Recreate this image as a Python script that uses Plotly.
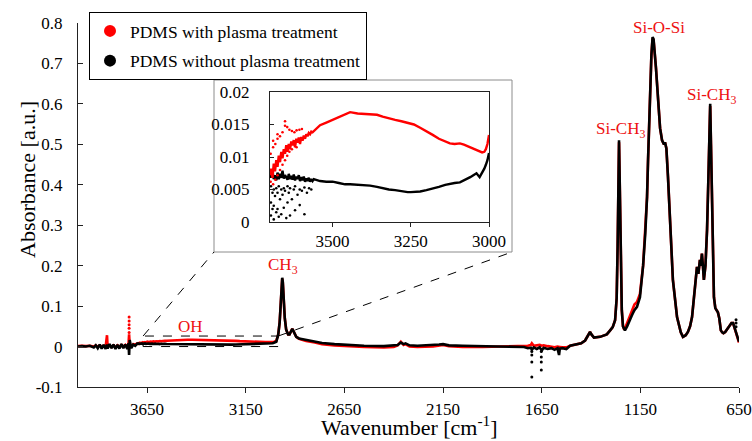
import plotly.graph_objects as go

# ---------------- data ----------------
SERIES = ["PDMS with plasma treatment", "PDMS without plasma treatment"]
COLORS = ["#ff0000", "#000000"]

X_TICKS = [3650, 3150, 2650, 2150, 1650, 1150, 650]
Y_TICKS = [-0.1, 0, 0.1, 0.2, 0.3, 0.4, 0.5, 0.6, 0.7, 0.8]
Y_TICK_TEXT = ["-0.1", "0", "0.1", "0.2", "0.3", "0.4", "0.5", "0.6", "0.7", "0.8"]
INSET_X_TICKS = [3500, 3250, 3000]
INSET_Y_TICKS = [0, 0.005, 0.01, 0.015, 0.02]
INSET_Y_TICK_TEXT = ["0", "0.005", "0.01", "0.015", "0.02"]

# 4000 - 3710 cm-1 (noisy region)
HIGH_WN = [4000, 3980, 3960, 3940, 3920, 3910, 3900, 3890, 3880, 3870, 3860, 3853, 3850,
           3840, 3830, 3820, 3810, 3800, 3790, 3780, 3770, 3760, 3750, 3744, 3741, 3738,
           3730, 3720, 3710]
HIGH_RED = [0.001, 0.002, 0.001, 0.002, 0.0, 0.003, -0.001, 0.003, 0.0, 0.002, -0.001, 0.028, 0.0,
            0.003, -0.001, 0.003, -0.002, 0.003, -0.001, 0.004, 0.0, 0.004, -0.002, 0.006, 0.03, 0.004,
            0.002, 0.006, 0.005]
HIGH_BLACK = [0.0, 0.001, 0.0, 0.002, -0.002, 0.003, -0.004, 0.005, -0.005, 0.004, -0.006, 0.005, -0.005,
              0.006, -0.004, 0.005, -0.006, 0.004, -0.005, 0.006, -0.004, 0.005, -0.006, 0.008, -0.021, 0.016,
              -0.004, 0.005, 0.002]

# 3700 - 3000 cm-1 (OH region, also shown in the inset)
INSET_WN = [3700, 3696, 3692, 3688, 3684, 3680, 3676, 3672, 3668, 3664, 3660, 3656, 3652, 3648,
            3644, 3640, 3636, 3632, 3628, 3624, 3620, 3616, 3612, 3608, 3604, 3600, 3596, 3592,
            3588, 3584, 3580, 3576, 3572, 3568, 3564, 3560,
            3550, 3540, 3520, 3500, 3480, 3460, 3444, 3420, 3400, 3380, 3358, 3340, 3320, 3300,
            3280, 3260, 3250, 3240, 3220, 3200, 3180, 3160, 3140, 3125, 3110, 3093, 3080, 3070,
            3060, 3050, 3040, 3030, 3022, 3015, 3010, 3005, 3000]
INSET_RED = [0.0072, 0.0082, 0.0068, 0.0090, 0.0078, 0.0095, 0.0085, 0.0102, 0.0092, 0.0108, 0.0098, 0.0112, 0.0105, 0.0118,
             0.0108, 0.0120, 0.0112, 0.0124, 0.0118, 0.0126, 0.0115, 0.0128, 0.0122, 0.0130, 0.0120, 0.0131, 0.0125, 0.0133,
             0.0128, 0.0135, 0.0132, 0.0137, 0.0135, 0.0139, 0.0138, 0.0140,
             0.0145, 0.0149, 0.0153, 0.0157, 0.0162, 0.0166, 0.0169, 0.0167, 0.0166, 0.0166, 0.0165, 0.0162, 0.0159, 0.0157,
             0.0155, 0.0153, 0.0152, 0.015, 0.0145, 0.014, 0.0134, 0.0128, 0.0124, 0.0121, 0.012, 0.0121, 0.0119, 0.0117,
             0.0115, 0.0113, 0.0111, 0.0109, 0.0107, 0.0108, 0.0112, 0.012, 0.0134]
INSET_BLACK = [0.0075, 0.0068, 0.0078, 0.0066, 0.0072, 0.0064, 0.0076, 0.0066, 0.0074, 0.0068, 0.0079, 0.0067, 0.0072, 0.0068,
               0.0065, 0.0074, 0.0066, 0.0071, 0.0065, 0.0073, 0.0064, 0.007, 0.0066, 0.0072, 0.0063, 0.0069, 0.0064, 0.007,
               0.0062, 0.0067, 0.0063, 0.0068, 0.0062, 0.0066, 0.0063, 0.0066,
               0.0064, 0.0063, 0.0062, 0.0062, 0.006, 0.0058, 0.0058, 0.0057, 0.0057, 0.0056, 0.0054, 0.0052, 0.005, 0.0049,
               0.0047, 0.0046, 0.0046, 0.0046, 0.0047, 0.0049, 0.0051, 0.0054, 0.0057, 0.0059, 0.006, 0.0061, 0.0064, 0.0066,
               0.0069, 0.0072, 0.0075, 0.0069, 0.0075, 0.0082, 0.0088, 0.0095, 0.0106]

# scattered noise points of the inset (dotted columns)
INSET_RED_DOTS_WN = [3698, 3698, 3690, 3690, 3690, 3683, 3683, 3676, 3676, 3676, 3668, 3668, 3660, 3660,
                     3652, 3652, 3652, 3645, 3645, 3638, 3638, 3630, 3630, 3622, 3615, 3615, 3606, 3598]
INSET_RED_DOTS_ABS = [0.0062, 0.0105, 0.0058, 0.0115, 0.0125, 0.0065, 0.012, 0.0072, 0.0128, 0.0135, 0.008, 0.0132,
                      0.0088, 0.0138, 0.0095, 0.0148, 0.0155, 0.0102, 0.0146, 0.0108, 0.0142, 0.0112, 0.0140, 0.0138,
                      0.0115, 0.0141, 0.0142, 0.0143]
INSET_BLACK_DOTS_WN = [3697, 3697, 3697, 3692, 3692, 3688, 3688, 3688, 3684, 3680, 3680, 3676, 3676, 3672, 3672,
                       3668, 3664, 3664, 3660, 3656, 3656, 3652, 3648, 3644, 3644, 3640, 3636, 3636, 3630, 3624,
                       3620, 3620, 3612, 3605, 3605, 3598, 3590, 3590, 3582, 3575, 3568]
INSET_BLACK_DOTS_ABS = [0.0055, 0.003, 0.001, 0.0045, 0.002, 0.005, 0.0025, 0.0004, 0.004, 0.0052, 0.0015, 0.0045,
                        0.002, 0.0055, 0.0008, 0.0035, 0.005, 0.0012, 0.0042, 0.0052, 0.0022, 0.0048, 0.0006,
                        0.0055, 0.003, 0.0045, 0.0052, 0.001, 0.0035, 0.005, 0.0055, 0.0018, 0.0042, 0.005, 0.0026,
                        0.0048, 0.0053, 0.0012, 0.0045, 0.0052, 0.005]

# 2995 - 650 cm-1 : (wavenumber, absorbance)
LOW_BLACK = [
    (2995, 0.012), (2985, 0.03), (2978, 0.06), (2972, 0.11), (2968, 0.15), (2965, 0.17), (2962, 0.16),
    (2958, 0.12), (2952, 0.07), (2945, 0.042), (2935, 0.03), (2928, 0.03), (2920, 0.038), (2914, 0.044),
    (2908, 0.038), (2900, 0.028), (2894, 0.024), (2880, 0.02), (2860, 0.018), (2844, 0.016), (2800, 0.012),
    (2763, 0.009), (2700, 0.006), (2641, 0.004), (2550, 0.002), (2450, 0.001), (2400, 0.002), (2380, 0.004),
    (2364, 0.01), (2350, 0.006), (2340, 0.008), (2320, 0.003), (2280, 0.002), (2200, 0.003), (2170, 0.005),
    (2150, 0.006), (2120, 0.003), (2050, 0.002), (1950, 0.001), (1850, 0.0), (1800, -0.001), (1760, -0.002),
    (1740, -0.001), (1720, -0.004), (1705, -0.003), (1700, -0.008), (1690, -0.002), (1675, -0.006),
    (1660, -0.002), (1650, -0.01), (1640, -0.003), (1620, -0.006), (1600, -0.004), (1585, -0.008),
    (1570, -0.004), (1562, -0.021), (1558, -0.005), (1545, -0.004), (1525, -0.006), (1506, 0.002),
    (1480, 0.004), (1450, 0.008), (1430, 0.015), (1420, 0.024), (1412, 0.033), (1405, 0.036), (1398, 0.03),
    (1385, 0.022), (1354, 0.024), (1320, 0.03), (1303, 0.04), (1290, 0.048), (1278, 0.065), (1270, 0.12),
    (1265, 0.25), (1261, 0.45), (1258, 0.51), (1255, 0.42), (1250, 0.2), (1244, 0.09), (1238, 0.05),
    (1232, 0.042), (1228, 0.04), (1217, 0.05), (1205, 0.065), (1192, 0.078), (1180, 0.09), (1167, 0.098),
    (1152, 0.122), (1136, 0.2), (1125, 0.28), (1116, 0.37), (1111, 0.46), (1101, 0.62), (1094, 0.72),
    (1088, 0.765), (1083, 0.76), (1071, 0.69), (1060, 0.62), (1050, 0.54), (1040, 0.51), (1030, 0.5),
    (1025, 0.505), (1018, 0.49), (1010, 0.42), (1000, 0.33), (985, 0.165), (964, 0.073), (945, 0.035),
    (934, 0.024), (920, 0.028), (909, 0.036), (898, 0.05), (888, 0.073), (875, 0.13), (863, 0.197),
    (856, 0.18), (848, 0.214), (843, 0.2), (838, 0.23), (833, 0.2), (828, 0.165), (820, 0.2), (812, 0.288),
    (806, 0.4), (802, 0.49), (799, 0.57), (796, 0.6), (792, 0.5), (787, 0.37), (782, 0.24), (777, 0.122),
    (770, 0.095), (762, 0.09), (757, 0.085), (750, 0.07), (742, 0.04), (735, 0.035), (729, 0.033),
    (720, 0.036), (710, 0.042), (700, 0.05), (694, 0.053), (688, 0.058), (680, 0.058), (672, 0.045),
    (665, 0.03), (658, 0.02), (650, 0.012),
]
LOW_RED = [
    (2995, 0.014), (2985, 0.03), (2978, 0.06), (2972, 0.11), (2968, 0.15), (2965, 0.168), (2962, 0.158),
    (2958, 0.12), (2952, 0.07), (2945, 0.042), (2935, 0.03), (2928, 0.03), (2920, 0.038), (2914, 0.044),
    (2908, 0.038), (2900, 0.028), (2894, 0.024), (2880, 0.019), (2860, 0.016), (2844, 0.014), (2800, 0.01),
    (2763, 0.006), (2700, 0.003), (2641, 0.001), (2550, -0.001), (2450, -0.002), (2400, -0.001), (2380, 0.003),
    (2364, 0.012), (2350, 0.004), (2340, 0.006), (2320, 0.0), (2280, -0.001), (2200, 0.0), (2170, 0.003),
    (2150, 0.004), (2120, 0.001), (2050, -0.001), (1950, -0.001), (1850, 0.0), (1800, 0.0), (1760, 0.002),
    (1740, 0.001), (1720, 0.002), (1705, 0.004), (1700, 0.008), (1690, 0.002), (1675, 0.003),
    (1660, 0.004), (1650, 0.002), (1640, 0.003), (1620, 0.001), (1600, 0.0), (1585, -0.002),
    (1570, 0.0), (1562, -0.002), (1558, -0.001), (1545, -0.002), (1525, -0.002), (1506, 0.002),
    (1480, 0.004), (1450, 0.008), (1430, 0.015), (1420, 0.024), (1412, 0.033), (1405, 0.036), (1398, 0.03),
    (1385, 0.022), (1354, 0.024), (1320, 0.03), (1303, 0.04), (1290, 0.048), (1278, 0.065), (1270, 0.12),
    (1265, 0.25), (1261, 0.45), (1258, 0.505), (1255, 0.42), (1250, 0.2), (1244, 0.09), (1238, 0.05),
    (1232, 0.042), (1228, 0.045), (1217, 0.058), (1205, 0.076), (1192, 0.09), (1180, 0.104), (1167, 0.11),
    (1152, 0.13), (1136, 0.2), (1125, 0.28), (1116, 0.37), (1111, 0.46), (1101, 0.62), (1094, 0.72),
    (1088, 0.762), (1083, 0.758), (1071, 0.69), (1060, 0.62), (1050, 0.54), (1040, 0.51), (1030, 0.5),
    (1025, 0.505), (1018, 0.49), (1010, 0.42), (1000, 0.33), (985, 0.165), (964, 0.073), (945, 0.035),
    (934, 0.024), (920, 0.028), (909, 0.036), (898, 0.05), (888, 0.073), (875, 0.13), (863, 0.197),
    (856, 0.18), (848, 0.214), (843, 0.2), (838, 0.23), (833, 0.2), (828, 0.165), (820, 0.2), (812, 0.288),
    (806, 0.4), (802, 0.49), (799, 0.57), (796, 0.595), (792, 0.5), (787, 0.37), (782, 0.24), (777, 0.122),
    (770, 0.095), (762, 0.09), (757, 0.085), (750, 0.07), (742, 0.04), (735, 0.035), (729, 0.033),
    (720, 0.036), (710, 0.042), (700, 0.05), (694, 0.053), (688, 0.058), (680, 0.058), (672, 0.045),
    (665, 0.03), (658, 0.02), (650, 0.01),
]

# isolated sparse points (dotted spikes) of the main plot
RED_DOTS_WN = [3741, 3741, 3741, 3741, 3741]
RED_DOTS_ABS = [0.035, 0.045, 0.054, 0.063, 0.073]
BLACK_DOTS_WN = [1700, 1700, 1700, 1700, 1652, 1652, 1652, 1652, 665, 665, 665]
BLACK_DOTS_ABS = [-0.012, -0.021, -0.038, -0.075, -0.012, -0.026, -0.038, -0.058, 0.049, 0.058, 0.066]

PEAK_LABELS = ["OH", "CH<sub>3</sub>", "Si-CH<sub>3</sub>", "Si-O-Si", "Si-CH<sub>3</sub>"]
PEAK_LABEL_WN = [3432, 2961, 1253, 1055, 787]
PEAK_LABEL_ABS = [0.05, 0.2, 0.535, 0.79, 0.62]

ZOOM_BOX_WN = [3670, 2985]
ZOOM_BOX_ABS = [0.0, 0.026]

# ---------------- layout geometry ----------------
W, H = 752, 441
ML, MR, MT, MB = 78, 13, 23, 54
PW, PH = W - ML - MR, H - MT - MB
X_RANGE = [4000, 650]
Y_RANGE = [-0.1, 0.8]


def px(x):
    return (x - ML) / PW


def py(y):
    return (H - MB - y) / PH


def data_to_paper(wn, a):
    return ((X_RANGE[0] - wn) / (X_RANGE[0] - X_RANGE[1]),
            (a - Y_RANGE[0]) / (Y_RANGE[1] - Y_RANGE[0]))


FONT = "Liberation Serif, Times New Roman, Times, serif"
RED, BLACK = COLORS

main_wn_red = HIGH_WN + INSET_WN + [p[0] for p in LOW_RED]
main_red = HIGH_RED + INSET_RED + [p[1] for p in LOW_RED]
main_wn_black = HIGH_WN + INSET_WN + [p[0] for p in LOW_BLACK]
main_black = HIGH_BLACK + INSET_BLACK + [p[1] for p in LOW_BLACK]

fig = go.Figure()
fig.add_trace(go.Scatter(x=main_wn_red, y=main_red, mode="lines", line=dict(color=RED, width=2.6),
                         showlegend=False, hoverinfo="skip"))
fig.add_trace(go.Scatter(x=RED_DOTS_WN, y=RED_DOTS_ABS, mode="markers", marker=dict(color=RED, size=3),
                         showlegend=False, hoverinfo="skip"))
fig.add_trace(go.Scatter(x=main_wn_black, y=main_black, mode="lines", line=dict(color=BLACK, width=2.6),
                         showlegend=False, hoverinfo="skip"))
fig.add_trace(go.Scatter(x=BLACK_DOTS_WN, y=BLACK_DOTS_ABS, mode="markers", marker=dict(color=BLACK, size=3),
                         showlegend=False, hoverinfo="skip"))

# inset
fig.add_trace(go.Scatter(x=INSET_BLACK_DOTS_WN, y=INSET_BLACK_DOTS_ABS, mode="markers",
                         marker=dict(color=BLACK, size=2.6), xaxis="x2", yaxis="y2",
                         showlegend=False, hoverinfo="skip"))
fig.add_trace(go.Scatter(x=INSET_WN, y=INSET_BLACK, mode="lines", line=dict(color=BLACK, width=2.4),
                         xaxis="x2", yaxis="y2", showlegend=False, hoverinfo="skip"))
fig.add_trace(go.Scatter(x=INSET_RED_DOTS_WN, y=INSET_RED_DOTS_ABS, mode="markers",
                         marker=dict(color=RED, size=2.6), xaxis="x2", yaxis="y2",
                         showlegend=False, hoverinfo="skip"))
fig.add_trace(go.Scatter(x=INSET_WN, y=INSET_RED, mode="lines", line=dict(color=RED, width=2.4),
                         xaxis="x2", yaxis="y2", showlegend=False, hoverinfo="skip"))

# legend entries
for i, (name, col) in enumerate(zip(SERIES, COLORS)):
    fig.add_trace(go.Scatter(x=[None], y=[None], mode="markers", name=name,
                             marker=dict(color=col, size=8), legendgroup=f"g{i}"))

shapes = []
# inset frame
shapes.append(dict(type="rect", xref="paper", yref="paper", x0=px(214), x1=px(512), y0=py(252), y1=py(80),
                   line=dict(color="#8c8c8c", width=1), fillcolor="white", layer="below"))
# zoom box in data coordinates
shapes.append(dict(type="rect", xref="x", yref="y", x0=ZOOM_BOX_WN[0], x1=ZOOM_BOX_WN[1],
                   y0=ZOOM_BOX_ABS[0], y1=ZOOM_BOX_ABS[1], line=dict(color="black", width=1, dash="dash")))
# connecting dashed lines
c1 = data_to_paper(ZOOM_BOX_WN[0], ZOOM_BOX_ABS[1])
c2 = data_to_paper(ZOOM_BOX_WN[1], ZOOM_BOX_ABS[1])
shapes.append(dict(type="line", xref="paper", yref="paper", x0=c1[0], y0=c1[1], x1=px(214), y1=py(252),
                   line=dict(color="black", width=1, dash="dash")))
shapes.append(dict(type="line", xref="paper", yref="paper", x0=c2[0], y0=c2[1], x1=px(512), y1=py(252),
                   line=dict(color="black", width=1, dash="dash")))

annotations = []
for txt, wn, a in zip(PEAK_LABELS, PEAK_LABEL_WN, PEAK_LABEL_ABS):
    annotations.append(dict(x=wn, y=a, xref="x", yref="y", text=txt, showarrow=False,
                            font=dict(family=FONT, size=17, color="#ee1111"), xanchor="center", yanchor="middle"))
annotations.append(dict(x=px(27), y=py(180), xref="paper", yref="paper", text="Absorbance [a.u.]",
                        textangle=-90, showarrow=False, font=dict(family=FONT, size=22, color="black"),
                        xanchor="center", yanchor="middle"))
annotations.append(dict(x=px(409), y=py(426), xref="paper", yref="paper", text="Wavenumber [cm<sup>-1</sup>]",
                        showarrow=False, font=dict(family=FONT, size=22, color="black"),
                        xanchor="center", yanchor="middle"))

axis_common = dict(showgrid=False, zeroline=False, showline=True, linecolor="#222", linewidth=1,
                   tickcolor="#222", tickfont=dict(family=FONT, size=17, color="black"))

fig.update_layout(
    width=W, height=H,
    margin=dict(l=ML, r=MR, t=MT, b=MB, pad=0, autoexpand=False),
    paper_bgcolor="white", plot_bgcolor="white",
    font=dict(family=FONT, size=17, color="black"),
    xaxis=dict(range=X_RANGE, tickvals=X_TICKS, ticks="outside", ticklen=5, domain=[0, 1],
               anchor="y", ticklabelstandoff=2, **axis_common),
    yaxis=dict(range=Y_RANGE, tickvals=Y_TICKS, ticktext=Y_TICK_TEXT, ticks="inside", ticklen=5,
               domain=[0, 1], anchor="x", ticklabelstandoff=11, **axis_common),
    xaxis2=dict(range=[3700, 3000], tickvals=INSET_X_TICKS, ticks="outside", ticklen=4,
                domain=[px(270), px(489)], anchor="y2", mirror=True, ticklabelstandoff=0, **axis_common),
    yaxis2=dict(range=[0, 0.02], tickvals=INSET_Y_TICKS, ticktext=INSET_Y_TICK_TEXT, ticks="inside",
                ticklen=4, domain=[py(222), py(92)], anchor="x2", mirror=True, ticklabelstandoff=16,
                **axis_common),
    legend=dict(x=px(89), y=py(12), xanchor="left", yanchor="top", bgcolor="white",
                bordercolor="black", borderwidth=1, font=dict(family=FONT, size=17.5, color="black"),
                traceorder="grouped", tracegroupgap=4, itemsizing="constant", itemwidth=30),
    shapes=shapes,
    annotations=annotations,
)

fig.write_html("out.html", config={"displayModeBar": False},
               post_script="document.body.style.margin='0px';document.body.style.overflow='hidden';")
